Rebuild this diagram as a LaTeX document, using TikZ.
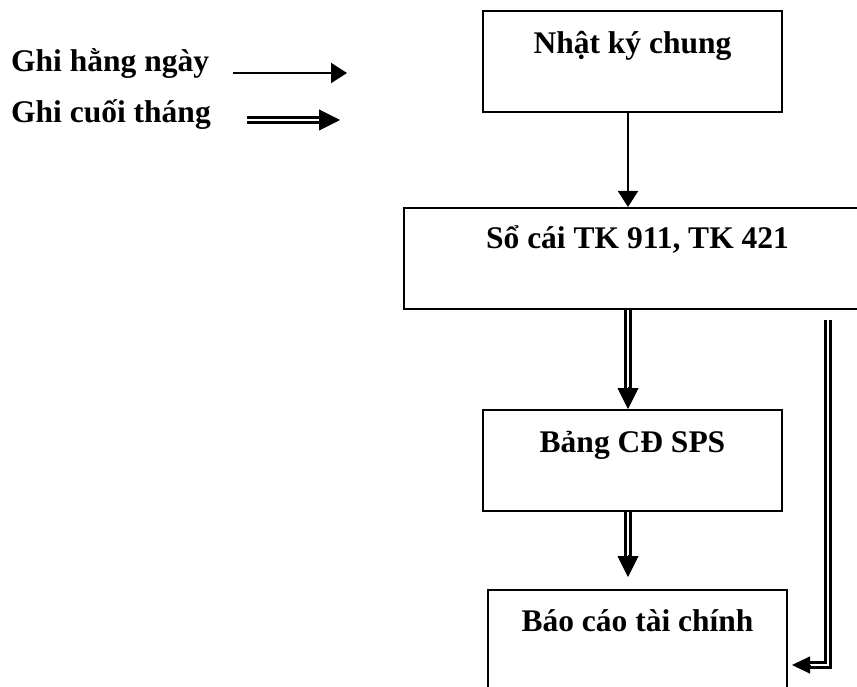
\documentclass[tikz,border=0pt]{standalone}
\usepackage{fontspec}
\setmainfont{Liberation Serif}
\usetikzlibrary{arrows.meta,calc}
\tikzset{
  box/.style={draw, line width=2pt, inner sep=0pt, anchor=north west,
    font=\fontsize{31.5}{31.5}\selectfont\bfseries},
  lbl/.style={inner sep=0pt, anchor=base west, font=\fontsize{31.5}{31.5}\selectfont\bfseries},
  single/.style={line width=2pt, -{Triangle[length=16pt,width=20pt]}},
  dbl/.style={draw, line width=2.5pt, double=white, double distance=2.5pt},
  dtip/.style={line width=1pt, -{Triangle[length=21pt,width=21pt]}}
}
\begin{document}
\begin{tikzpicture}[x=1pt,y=-1pt]
\useasboundingbox (0,0) rectangle (857,687);
\clip (0,0) rectangle (857,687);

% legend
\node[lbl] (l1) at (11,72) {Ghi hằng ngày};
\node[lbl] (l2) at (11,123) {Ghi cuối tháng};
\coordinate (a1s) at (233,73);
\coordinate (a1e) at (347,73);
\draw[single] (a1s) -- (a1e);
\coordinate (a2s) at (247,120);
\coordinate (a2m) at (320,120);
\coordinate (a2e) at (340,120);
\draw[dbl] (a2s) -- (a2m);
\draw[dtip] ($(a2e)+(-21,0)$) -- (a2e);

% boxes
\node[box, minimum width=299pt, text height=43pt, text depth=58pt] (b1) at (482,10) {Nhật ký chung};
\node[box, minimum width=467pt, text height=41pt, text depth=60pt] (b2) at (403,207) {Sổ cái TK 911, TK 421};
\node[box, minimum width=299pt, text height=42pt, text depth=59pt] (b3) at (482,409) {Bảng CĐ SPS};
\node[box, minimum width=299pt, text height=41pt, text depth=75pt] (b4) at (487,589) {Báo cáo tài chính};

% Nhat ky chung -> So cai
\coordinate (m1) at ([xshift=-4.5pt]b1.south);
\draw[single] (m1) -- (m1 |- b2.north);

% So cai => Bang CD SPS
\coordinate (m2) at ([xshift=-9.5pt]b2.south);
\draw[dbl, shorten >=17pt] (m2) -- (m2 |- b3.north);
\draw[dtip] ($(m2 |- b3.north)+(0,-22)$) -- (m2 |- b3.north);

% Bang CD SPS => Bao cao tai chinh
\coordinate (m3) at ([xshift=-4.5pt]b3.south);
\coordinate (m3e) at ($(m3 |- b4.north)+(0,-12)$);
\draw[dbl, shorten >=17pt] (m3) -- (m3e);
\draw[dtip] ($(m3e)+(0,-22)$) -- (m3e);

% So cai => Bao cao tai chinh (right side)
\coordinate (c1) at (828,320);
\coordinate (c2) at (828,665);
\coordinate (c3) at ($(c2 -| b4.east)+(4,0)$);
\draw[dbl] (c1) -- (c2) -- ($(c3)+(16,0)$);
\draw[line width=1pt, -{Triangle[length=18pt,width=17pt]}] ($(c3)+(18,0)$) -- (c3);
\end{tikzpicture}
\end{document}
